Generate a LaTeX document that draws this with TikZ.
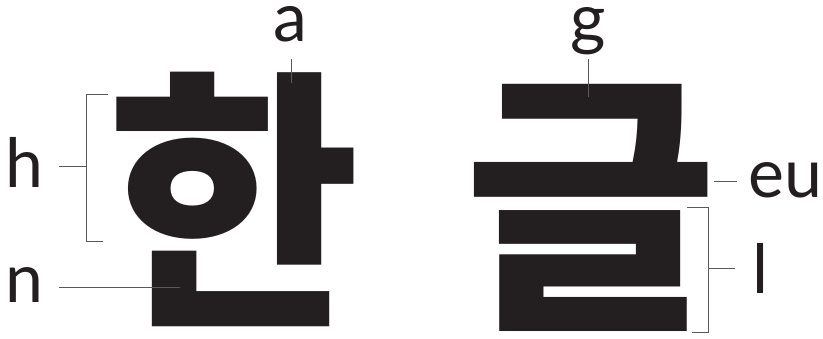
\documentclass[tikz,border=0pt]{standalone}
\usepackage{fontspec}
\setmainfont{Lato}
\newfontfamily\korfont{Noto Sans CJK KR}
\usetikzlibrary{positioning}
\definecolor{ink900} {HTML}{231F20}
\definecolor{grey600}{HTML}{58595B}
\tikzset{
  glyph/.style={inner sep=0pt, anchor=base, text=ink900,
                font=\korfont\bfseries\fontsize{275}{275}\selectfont},
  lbl/.style  ={inner sep=0pt, anchor=base, text=ink900,
                font=\fontsize{68}{68}\selectfont},
  lead/.style ={draw=grey600, line width=0.9pt}
}
\begin{document}
\begin{tikzpicture}[x=1pt,y=-1pt]
\useasboundingbox (0,0) rectangle (823,338);
% the two syllables
\node[glyph] (han)  at (234,304) {한};
\node[glyph] (geul) at (591,306) {글};

% jamo labels
\node[lbl, text height=1ex] (a) at (290,41) {a};
\node[lbl, text height=1ex] (g) at (588,42) {g};
\node[lbl] (h)  at (24,187)  {h};
\node[lbl] (n)  at (24,302)  {n};
\node[lbl] (eu) at (785,197) {eu};
\node[lbl] (l)  at (761,293) {l};

% leader ends
\coordinate (a top)  at (291,59);  \coordinate (a foot) at (291,83);
\coordinate (g top)  at (588,59);  \coordinate (g foot) at (588,97);
\coordinate (h top)  at (108,94);  \coordinate (h bot)  at (103,241);
\coordinate (h tip)  at (59,166);  \coordinate (h mid)  at (86,166);
\coordinate (n tip)  at (59,287);  \coordinate (n foot) at (180,287);
\coordinate (eu tip) at (737,181); \coordinate (eu foot) at (714,181);
\coordinate (l top)  at (687,207); \coordinate (l bot)  at (692,332);
\coordinate (l tip)  at (735,268); \coordinate (l mid)  at (708,268);

\draw[lead] (a top) -- (a foot);
\draw[lead] (g top) -- (g foot);
\draw[lead] (h top) -- ++(-22,0) |- (h bot);
\draw[lead] (h tip) -- (h mid);
\draw[lead] (n tip) -- (n foot);
\draw[lead] (eu tip) -- (eu foot);
\draw[lead] (l top) -- ++(21,0) |- (l bot);
\draw[lead] (l tip) -- (l mid);
\end{tikzpicture}
\end{document}
